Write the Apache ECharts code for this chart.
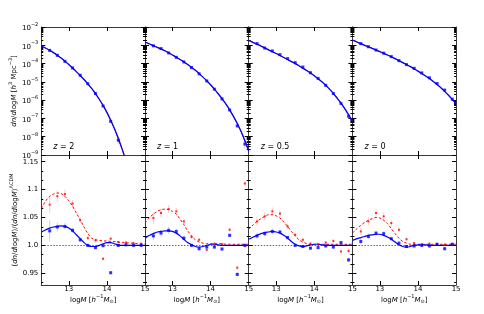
<!DOCTYPE html>
<html><head><meta charset="utf-8">
<script src="https://cdn.jsdelivr.net/npm/echarts@6/dist/echarts.min.js"></script>
<style>html,body{margin:0;padding:0;background:#fff}#c{width:484px;height:314px}</style>
</head><body><div id="c"></div>
<script>
// ---------- data ----------
const redshifts = ['2', '1', '0.5', '0'];
const curveX = [12.28,12.4,12.5,12.6,12.7,12.8,12.9,13.0,13.1,13.2,13.3,13.4,13.5,13.6,13.7,13.8,13.9,14.0,14.1,14.2,14.3,14.4,14.5,14.6,14.7,14.8,14.9,15.0];
const pointX = [12.5,12.7,12.9,13.1,13.3,13.5,13.7,13.9,14.1,14.3,14.5,14.7,14.9];

// top row: log10 of dn/dlogM
const hmfCurveZ2  = [-3.04,-3.16,-3.27,-3.40,-3.54,-3.70,-3.87,-4.05,-4.24,-4.44,-4.65,-4.87,-5.11,-5.36,-5.64,-5.95,-6.29,-6.67,-7.10,-7.57,-8.10,-8.68,-9.30,null,null,null,null,null];
const hmfCurveZ1  = [-2.82,-2.93,-3.02,-3.11,-3.20,-3.30,-3.41,-3.53,-3.65,-3.78,-3.91,-4.05,-4.21,-4.37,-4.55,-4.74,-4.94,-5.16,-5.40,-5.65,-5.92,-6.21,-6.53,-6.89,-7.28,-7.72,-8.22,-8.78];
const hmfCurveZ05 = [-2.73,-2.85,-2.94,-3.04,-3.14,-3.25,-3.35,-3.45,-3.56,-3.67,-3.78,-3.89,-4.00,-4.12,-4.25,-4.38,-4.52,-4.67,-4.83,-5.00,-5.19,-5.40,-5.63,-5.89,-6.16,-6.46,-6.80,-7.15];
const hmfCurveZ0  = [-2.71,-2.82,-2.91,-3.00,-3.08,-3.17,-3.26,-3.35,-3.44,-3.53,-3.63,-3.73,-3.84,-3.95,-4.06,-4.17,-4.29,-4.41,-4.54,-4.68,-4.82,-4.98,-5.14,-5.32,-5.52,-5.73,-5.96,-6.20];
const hmfPointsZ2  = [-3.28,-3.55,-3.88,-4.24,-4.64,-5.10,-5.64,-6.32,-7.16,-8.19,null,null,null];
const hmfPointsZ1  = [-3.03,-3.18,-3.42,-3.66,-3.91,-4.22,-4.56,-4.95,-5.40,-5.93,-6.54,-7.41,-8.40];
const hmfPointsZ05 = [-2.91,-3.15,-3.31,-3.51,-3.73,-3.95,-4.19,-4.50,-4.81,-5.19,-5.64,-6.18,-6.88];
const hmfPointsZ0  = [-2.91,-3.08,-3.26,-3.43,-3.62,-3.84,-4.06,-4.26,-4.51,-4.78,-5.09,-5.45,-5.95];
// error bars (in dex)
const hmfErrZ2  = [0,0,0,0,0,0,0.01,0.02,0.05,0.22,0,0,0];
const hmfErrZ1  = [0,0,0,0,0,0,0,0,0.01,0.02,0.04,0.08,0.25];
const hmfErrZ05 = [0,0,0,0,0,0,0,0,0,0.01,0.02,0.04,0.08];
const hmfErrZ0  = [0,0,0,0,0,0,0,0,0,0,0.01,0.02,0.04];

// bottom row: ratio to LCDM
const ratioRedCurveZ2   = [1.066,1.080,1.088,1.092,1.094,1.093,1.088,1.080,1.070,1.058,1.046,1.033,1.021,1.013,1.010,1.009,1.008,1.008,1.007,1.007,1.006,1.005,1.005,1.004,1.004,1.003,1.003,1.003];
const ratioBlueCurveZ2  = [1.024,1.028,1.031,1.033,1.034,1.035,1.034,1.031,1.026,1.019,1.012,1.005,1.000,0.998,0.998,1.000,1.003,1.005,1.005,1.003,1.001,1.000,1.000,1.000,1.000,1.000,1.000,1.000];
const ratioRedCurveZ1   = [1.040,1.050,1.056,1.061,1.064,1.065,1.064,1.061,1.056,1.047,1.037,1.026,1.017,1.010,1.006,1.004,1.003,1.003,1.003,1.003,1.003,1.002,1.002,1.002,1.002,1.002,1.002,1.002];
const ratioBlueCurveZ1  = [1.013,1.018,1.021,1.024,1.025,1.026,1.026,1.025,1.022,1.017,1.011,1.005,1.001,0.998,0.997,0.998,1.000,1.002,1.002,1.001,1.000,1.000,1.000,1.000,1.000,1.000,1.000,1.000];
const ratioRedCurveZ05  = [1.029,1.037,1.043,1.048,1.052,1.055,1.055,1.053,1.049,1.042,1.034,1.025,1.017,1.010,1.006,1.003,1.002,1.002,1.002,1.002,1.002,1.002,1.002,1.002,1.002,1.002,1.002,1.002];
const ratioBlueCurveZ05 = [1.011,1.015,1.018,1.021,1.023,1.024,1.025,1.024,1.022,1.018,1.013,1.007,1.002,0.999,0.998,0.999,1.001,1.002,1.002,1.001,1.000,1.000,1.000,1.000,1.000,1.000,1.000,1.000];
const ratioRedCurveZ0   = [1.022,1.030,1.036,1.041,1.045,1.048,1.050,1.049,1.045,1.039,1.030,1.021,1.013,1.007,1.004,1.002,1.002,1.002,1.002,1.002,1.002,1.002,1.002,1.002,1.002,1.002,1.002,1.002];
const ratioBlueCurveZ0  = [1.009,1.012,1.014,1.016,1.018,1.019,1.020,1.020,1.018,1.015,1.011,1.006,1.001,0.998,0.997,0.998,1.000,1.001,1.001,1.001,1.000,1.000,1.000,1.000,1.000,1.000,1.000,1.000];

const ratioBluePtsZ2  = [1.026,1.033,1.034,1.027,1.010,1.000,0.996,0.9995,0.951,1.000,1.001,1.000,1.000];
const ratioRedPtsZ2   = [1.073,1.088,1.092,1.075,1.045,1.013,1.009,0.976,1.012,1.006,1.005,1.004,1.003];
const ratioBluePtsZ1  = [1.017,1.022,1.027,1.025,1.013,1.000,0.994,0.997,0.997,0.9935,1.018,0.948,1.000];
const ratioRedPtsZ1   = [1.049,1.058,1.065,1.061,1.043,1.015,1.010,0.992,1.003,1.002,1.028,0.960,1.111];
const ratioBluePtsZ05 = [1.017,1.021,1.025,1.024,1.014,1.000,0.998,0.995,0.996,0.999,0.997,1.005,0.974];
const ratioRedPtsZ05  = [1.043,1.052,1.061,1.057,1.034,1.019,1.010,1.003,1.002,1.005,1.008,0.989,0.990];
const ratioBluePtsZ0  = [1.007,1.016,1.022,1.021,1.012,1.004,0.998,0.999,1.000,0.999,1.002,0.994,1.002];
const ratioRedPtsZ0   = [1.025,1.043,1.058,1.052,1.040,1.028,1.011,1.004,1.002,1.003,1.002,1.001,1.002];
const ratioBlueErrZ2  = [0.019,0.008,0.006,0.005,0.004,0.003,0.003,0.003,0.003,0.003,0.003,0.003,0.003];
const ratioRedErrZ2   = [0.016,0.010,0.008,0.006,0.005,0.004,0.004,0.003,0.003,0.003,0.003,0.003,0.003];
const ratioBlueErrZ1  = [0.008,0.006,0.006,0.005,0.004,0.003,0.003,0.003,0.003,0.003,0.003,0.004,0.004];
const ratioRedErrZ1   = [0.010,0.008,0.007,0.006,0.005,0.004,0.004,0.003,0.003,0.003,0.003,0.004,0.004];
const ratioBlueErrZ05 = [0.006,0.005,0.005,0.004,0.003,0.003,0.003,0.003,0.003,0.003,0.003,0.003,0.004];
const ratioRedErrZ05  = [0.008,0.007,0.007,0.006,0.005,0.004,0.003,0.003,0.003,0.003,0.003,0.003,0.004];
const ratioBlueErrZ0  = [0.005,0.005,0.004,0.004,0.003,0.003,0.003,0.003,0.003,0.003,0.003,0.003,0.003];
const ratioRedErrZ0   = [0.007,0.007,0.008,0.007,0.005,0.004,0.003,0.003,0.003,0.003,0.003,0.003,0.003];

// ticks
const massTicks = [13, 14, 15];
const hmfTickExps = [-9,-8,-7,-6,-5,-4,-3,-2];
const ratioTicks = [0.95, 1.0, 1.05, 1.1, 1.15];
const ratioTickLabels = ['0.95', '1.0', '1.05', '1.1', '1.15'];

// ---------- build ----------
const hmfCurves = [hmfCurveZ2, hmfCurveZ1, hmfCurveZ05, hmfCurveZ0];
const hmfPoints = [hmfPointsZ2, hmfPointsZ1, hmfPointsZ05, hmfPointsZ0];
const hmfErrs = [hmfErrZ2, hmfErrZ1, hmfErrZ05, hmfErrZ0];
const rRedC = [ratioRedCurveZ2, ratioRedCurveZ1, ratioRedCurveZ05, ratioRedCurveZ0];
const rBlueC = [ratioBlueCurveZ2, ratioBlueCurveZ1, ratioBlueCurveZ05, ratioBlueCurveZ0];
const rRedP = [ratioRedPtsZ2, ratioRedPtsZ1, ratioRedPtsZ05, ratioRedPtsZ0];
const rBlueP = [ratioBluePtsZ2, ratioBluePtsZ1, ratioBluePtsZ05, ratioBluePtsZ0];
const rRedE = [ratioRedErrZ2, ratioRedErrZ1, ratioRedErrZ05, ratioRedErrZ0];
const rBlueE = [ratioBlueErrZ2, ratioBlueErrZ1, ratioBlueErrZ05, ratioBlueErrZ0];

const XMIN = 12.28, XMAX = 15;
const TMIN = -9, TMAX = -2;
const RMIN = 0.929, RMAX = 1.162;
const FONT = 'DejaVu Sans';
const AX = '#3a3a3a';

const hmfMinor = [];
for (let n = -9; n < -2; n++) for (let k = 2; k <= 9; k++) hmfMinor.push(n + Math.log10(k));
const ratioMinor = [];
for (let k = -2; k <= 12; k++) {
  const v = 0.95 + k * 0.05 / 3;
  if (v > RMIN && v < RMAX && k % 3 !== 0) ratioMinor.push(+v.toFixed(5));
}

const lefts = [41.3, 145.0, 248.7, 352.4];
const W = 103.7;
const grids = [], xAxes = [], yAxes = [], series = [], titles = [];
const pair = (xs, ys) => xs.map((x, i) => [x, ys[i]]);
const errData = (xs, ys, es) => xs.map((x, i) => ys[i] == null ? [x, null, 0] : [x, ys[i], es[i]]);

function errSeries(xi, yi, data, color) {
  return {
    type: 'custom', xAxisIndex: xi, yAxisIndex: yi, data, silent: true, z: 1, clip: true,
    renderItem: (params, api) => {
      const y = api.value(1), e = api.value(2);
      if (!e || isNaN(y)) return null;
      const a = api.coord([api.value(0), y - e]);
      const b = api.coord([api.value(0), y + e]);
      return {type: 'line', shape: {x1: a[0], y1: a[1], x2: b[0], y2: b[1]},
        style: {stroke: color, lineWidth: 1}};
    }
  };
}

const supRich = {
  b: {fontFamily: FONT, fontSize: 7, color: '#000', lineHeight: 10, verticalAlign: 'bottom'},
  s: {fontFamily: FONT, fontSize: 5, color: '#000', lineHeight: 6, verticalAlign: 'top'},
  i: {fontFamily: FONT, fontSize: 7, fontStyle: 'italic', color: '#000', lineHeight: 10, verticalAlign: 'bottom'},
  n: {fontFamily: FONT, fontSize: 7, color: '#000', lineHeight: 10, verticalAlign: 'bottom'}
};

for (let row = 0; row < 2; row++) {
  for (let p = 0; p < 4; p++) {
    const g = row * 4 + p;
    grids.push({left: lefts[p], width: W, top: row === 0 ? 27 : 155, height: row === 0 ? 128 : 130, containLabel: false});
    const isBottom = row === 1;
    xAxes.push({
      gridIndex: g, type: 'value', min: XMIN, max: XMAX, position: 'bottom',
      splitLine: {show: false},
      axisLine: {show: true, onZero: false, lineStyle: {color: AX, width: 1}},
      axisTick: {show: true, inside: true, length: 4, customValues: [13, 14], lineStyle: {color: '#000', width: 1}},
      axisLabel: {show: isBottom, customValues: massTicks, fontFamily: FONT, fontSize: 7, color: '#000', margin: 1,
        formatter: v => String(Math.round(v))},
      name: isBottom ? '{n|log}{i|M} {n|[}{i|h}{s|−1}{i|M}{s2|⊙}{n|]}' : '',
      nameLocation: 'middle', nameGap: 8,
      nameTextStyle: {fontFamily: FONT, fontSize: 7, color: '#000', rich: Object.assign({}, supRich, {
        s2: {fontFamily: FONT, fontSize: 5, color: '#000', lineHeight: 10, verticalAlign: 'bottom'}})}
    });
    xAxes.push({
      gridIndex: g, type: 'value', min: XMIN, max: XMAX, position: 'top',
      splitLine: {show: false},
      axisLine: {show: true, onZero: false, lineStyle: {color: AX, width: 1}},
      axisTick: {show: true, inside: true, length: 4, customValues: [13, 14], lineStyle: {color: '#000', width: 1}},
      axisLabel: {show: false}
    });
    const min = row === 0 ? TMIN : RMIN, max = row === 0 ? TMAX : RMAX;
    const majors = row === 0 ? hmfTickExps : ratioTicks;
    const minors = row === 0 ? hmfMinor : ratioMinor;
    const labelOn = p === 0;
    yAxes.push({
      gridIndex: g, type: 'value', min, max, position: 'left',
      splitLine: {show: false},
      axisLine: {show: true, onZero: false, lineStyle: {color: AX, width: 1}},
      axisTick: {show: true, inside: true, length: 4, customValues: majors, lineStyle: {color: '#000', width: 1}},
      axisLabel: {show: labelOn, customValues: majors, margin: 3, fontFamily: FONT, fontSize: 7, color: '#000',
        formatter: row === 0 ? (v => '{b|10}{s|−' + Math.abs(Math.round(v)) + '}')
                             : (v => ratioTickLabels[ratioTicks.findIndex(t => Math.abs(t - v) < 1e-6)]),
        rich: supRich},
      name: labelOn ? (row === 0 ? '{i|dn}{n|/}{i|d}{n|log}{i|M} {n|[}{i|h}{s|3}{n| Mpc}{s|−3}{n|]}'
                                 : '{n|(}{i|dn}{n|/}{i|d}{n|log}{i|M}{n|)/(}{i|dn}{n|/}{i|d}{n|log}{i|M}{n|)}{s|ΛCDM}') : '',
      nameLocation: 'middle', nameRotate: 90, nameGap: row === 0 ? 17 : 17,
      nameTextStyle: {fontFamily: FONT, fontSize: 7, color: '#000', rich: supRich}
    });
    yAxes.push({
      gridIndex: g, type: 'value', min, max, position: 'left',
      splitLine: {show: false}, axisLine: {show: false}, axisLabel: {show: false},
      axisTick: {show: true, inside: true, length: 2, customValues: minors, lineStyle: {color: '#000', width: 1}}
    });
    yAxes.push({
      gridIndex: g, type: 'value', min, max, position: 'right',
      splitLine: {show: false},
      axisLine: {show: true, onZero: false, lineStyle: {color: AX, width: 1}},
      axisTick: {show: true, inside: true, length: 4, customValues: majors, lineStyle: {color: '#000', width: 1}},
      axisLabel: {show: false}
    });
    yAxes.push({
      gridIndex: g, type: 'value', min, max, position: 'right',
      splitLine: {show: false}, axisLine: {show: false}, axisLabel: {show: false},
      axisTick: {show: true, inside: true, length: 2, customValues: minors, lineStyle: {color: '#000', width: 1}}
    });

    const xi = 2 * g, yi = 4 * g;
    if (row === 0) {
      series.push(errSeries(xi, yi, errData(pointX, hmfPoints[p], hmfErrs[p]), 'rgba(200,160,200,0.7)'));
      series.push({type: 'line', xAxisIndex: xi, yAxisIndex: yi, data: pair(curveX, hmfCurves[p]),
        showSymbol: false, smooth: 0.3, clip: true, lineStyle: {color: '#ff0000', width: 0.8}, z: 2, silent: true});
      series.push({type: 'line', xAxisIndex: xi, yAxisIndex: yi, data: pair(curveX, hmfCurves[p]),
        showSymbol: false, smooth: 0.3, clip: true, lineStyle: {color: '#0000ff', width: 1.3}, z: 3, silent: true});
      series.push({type: 'scatter', xAxisIndex: xi, yAxisIndex: yi, data: pair(pointX, hmfPoints[p]),
        symbol: 'rect', symbolSize: 3, itemStyle: {color: '#0000ff'}, z: 4, silent: true});
      titles.push({text: '{i|z} = ' + redshifts[p], left: lefts[p] + 7, top: 138,
        textStyle: {fontFamily: FONT, fontSize: 8, fontWeight: 'normal', color: '#000',
          rich: {i: {fontFamily: FONT, fontSize: 8, fontStyle: 'italic', color: '#000'}}}});
    } else {
      series.push(errSeries(xi, yi, errData(pointX, rRedP[p], rRedE[p]), 'rgba(255,0,0,0.22)'));
      series.push(errSeries(xi, yi, errData(pointX, rBlueP[p], rBlueE[p]), 'rgba(0,0,255,0.22)'));
      series.push({type: 'line', xAxisIndex: xi, yAxisIndex: yi, data: pair(curveX, rRedC[p]),
        showSymbol: false, smooth: 0.3, clip: true, lineStyle: {color: '#ff0000', width: 1, type: [2.5, 2]}, z: 3, silent: true,
        markLine: {silent: true, symbol: 'none', label: {show: false}, animation: false,
          lineStyle: {color: '#000', width: 0.6, type: [1.5, 1.5]}, data: [{yAxis: 1}]}});
      series.push({type: 'line', xAxisIndex: xi, yAxisIndex: yi, data: pair(curveX, rBlueC[p]),
        showSymbol: false, smooth: 0.3, clip: true, lineStyle: {color: '#0000ff', width: 1.2}, z: 3, silent: true});
      series.push({type: 'scatter', xAxisIndex: xi, yAxisIndex: yi, data: pair(pointX, rRedP[p]),
        symbol: 'rect', symbolSize: 2, itemStyle: {color: '#ff0000'}, z: 4, silent: true});
      series.push({type: 'scatter', xAxisIndex: xi, yAxisIndex: yi, data: pair(pointX, rBlueP[p]),
        symbol: 'rect', symbolSize: 3, itemStyle: {color: '#0000ff'}, z: 5, silent: true});
    }
  }
}

const chart = echarts.init(document.getElementById('c'), null, {renderer: 'canvas'});
chart.setOption({
  animation: false,
  backgroundColor: '#fff',
  textStyle: {fontFamily: FONT},
  title: titles,
  grid: grids, xAxis: xAxes, yAxis: yAxes, series
});
</script></body></html>
